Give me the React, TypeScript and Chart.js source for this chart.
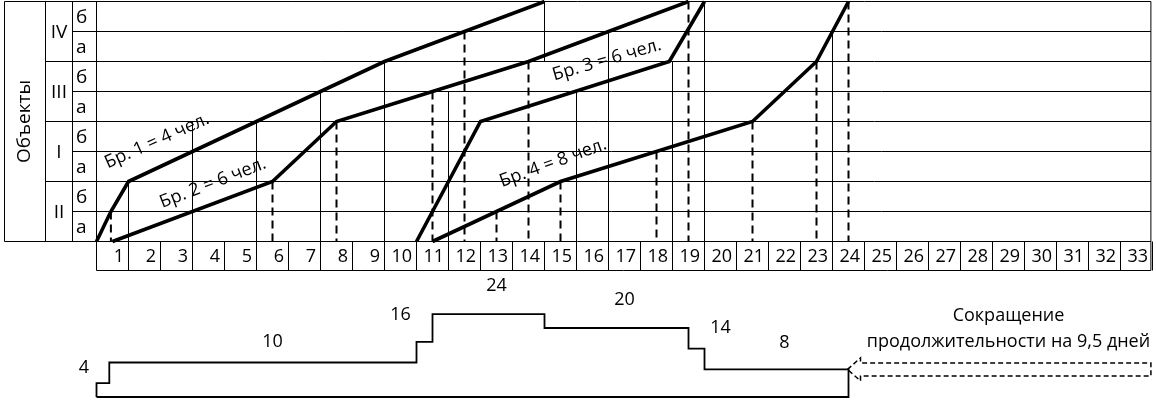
import { useEffect, useRef } from "react";
import { Chart, registerables } from "chart.js";

Chart.register(...registerables);

// Work fronts from bottom to top: each object has two sections (а, б)
const objectNames = ["II", "I", "III", "IV"];
const sectionNames = ["а", "б"];

// Day numbers along the bottom of the schedule
const dayNumbers = [
  1, 2, 3, 4, 5, 6, 7, 8, 9, 10, 11, 12, 13, 14, 15, 16, 17,
  18, 19, 20, 21, 22, 23, 24, 25, 26, 27, 28, 29, 30, 31, 32, 33,
];

// Brigade flow lines: day (x) against section level (0 = start of II-а, 8 = end of IV-б)
const brigade1Days = [0.5, 0.95, 1.5, 3.5, 5.5, 7.5, 9.5, 12, 14.5];
const brigade1Levels = [0, 1, 2, 3, 4, 5, 6, 7, 8];
const brigade2Days = [1, 6, 8, 11, 14, 16.5, 19];
const brigade2Levels = [0, 2, 4, 5, 6, 7, 8];
const brigade3Days = [10.5, 12.5, 18.4, 19.5];
const brigade3Levels = [0, 4, 6, 8];
const brigade4Days = [11, 15, 21, 23, 24];
const brigade4Levels = [0, 2, 4, 6, 8];
const brigadeNames = ["Бр. 1 = 4 чел.", "Бр. 2 = 6 чел.", "Бр. 3 = 6 чел.", "Бр. 4 = 8 чел."];

// Dashed drop lines: day and the level they fall from
const dropDays = [0.95, 6, 8, 11, 12, 13, 14, 15, 18, 19, 21, 23, 24];
const dropLevels = [1, 2, 4, 5, 7, 1, 6, 2, 3, 8, 4, 6, 8];

// Workforce histogram: step boundaries (days) and number of workers per step
const crewBounds = [0.5, 0.9, 10.5, 11, 14.5, 19, 19.5, 24];
const crewSizes = [4, 10, 16, 24, 20, 14, 8];

// Duration reduction arrow (days)
const reductionFrom = 24;
const reductionTo = 33.45;
const reductionText = ["Сокращение", "продолжительности на 9,5 дней"];

// Cell borders drawn inside the schedule: day boundary and level range
const innerBorders: [number, number, number][] = [
  [1.5, 0, 2],
  [3.5, 0, 4],
  [5.5, 0, 4],
  [7.5, 0, 5],
  [9.5, 0, 6],
  [11.5, 0, 5],
  [14.5, 6, 8],
  [15.5, 0, 5],
  [16.5, 0, 7],
  [18.5, 0, 6],
  [19.5, 0, 8],
  [23.5, 0, 7],
];

// ---- layout ----
const W = 1156;
const H = 400;
const DAY_PX = 32;
const ROW_PX = 30;
const TOP = 1.5;
const GRID_BOTTOM = TOP + 8 * ROW_PX;
const HIST_BASE = 397;
const PEOPLE_PX = 3.45;
const LEFT = 96.5;
const FONT = '"Open Sans", "Noto Sans", sans-serif';

// label anchors: [day, level, angle in degrees]
const brigadeLabelSpots: [number, number, number][] = [
  [2.39, 3.35, -24],
  [4.14, 1.95, -21],
  [16.45, 6.05, -16],
  [14.77, 2.62, -20],
];
// histogram labels: [day, pixels above the step]
const crewLabelSpots: [number, number][] = [
  [0.11, 15],
  [6.0, 21],
  [10.0, 27],
  [13.0, 28],
  [17.0, 28],
  [20.0, 21],
  [22.0, 27],
];

const pairs = (xs: number[], ys: number[]) => xs.map((x, i) => ({ x, y: ys[i] }));

function histogramPoints() {
  const pts: { x: number; y: number }[] = [{ x: crewBounds[0], y: 0 }];
  crewSizes.forEach((n, i) => {
    pts.push({ x: crewBounds[i], y: n }, { x: crewBounds[i + 1], y: n });
  });
  pts.push({ x: crewBounds[crewBounds.length - 1], y: 0 }, { x: crewBounds[0], y: 0 });
  return pts;
}

function drawText(
  ctx: CanvasRenderingContext2D,
  s: string,
  x: number,
  y: number,
  size = 18,
  align: CanvasTextAlign = "center",
  angle = 0
) {
  ctx.save();
  ctx.translate(x, y);
  if (angle) ctx.rotate(angle);
  ctx.font = `${size}px ${FONT}`;
  ctx.fillStyle = "#000";
  ctx.textAlign = align;
  ctx.textBaseline = "middle";
  ctx.fillText(s, 0, 0);
  ctx.restore();
}

const schedulePlugin = {
  id: "scheduleTable",
  beforeDatasetsDraw(chart: any) {
    const ctx: CanvasRenderingContext2D = chart.ctx;
    const xs = chart.scales.x;
    const ys = chart.scales.y;
    const px = (d: number) => xs.getPixelForValue(d);
    const py = (l: number) => ys.getPixelForValue(l);
    const right = px(33.45);
    const colA = 4.5;
    const colB = 45.5;
    const colC = 72.5;
    const gridLeft = px(0.5);
    const dayTop = py(0);
    const dayBottom = dayTop + 29;

    ctx.save();
    ctx.strokeStyle = "#000";
    ctx.lineWidth = 1;
    ctx.beginPath();
    // rows
    for (let r = 0; r <= 8; r++) {
      const y = py(r);
      const x0 = r === 0 || r === 8 ? colA : r % 2 === 0 ? colB : colC;
      ctx.moveTo(x0, y);
      ctx.lineTo(right, y);
    }
    // table columns
    [colA, colB, colC].forEach((x) => {
      ctx.moveTo(x, py(8));
      ctx.lineTo(x, py(0));
    });
    ctx.moveTo(gridLeft, py(8));
    ctx.lineTo(gridLeft, dayBottom);
    ctx.moveTo(right, py(8));
    ctx.lineTo(right, dayBottom);
    // inner cell borders
    innerBorders.forEach(([d, l0, l1]) => {
      ctx.moveTo(px(d), py(l0));
      ctx.lineTo(px(d), py(l1));
    });
    // day row
    dayNumbers.forEach((n) => {
      ctx.moveTo(px(n + 0.5), dayTop);
      ctx.lineTo(px(n + 0.5), dayBottom);
    });
    ctx.moveTo(gridLeft, dayBottom);
    ctx.lineTo(right, dayBottom);
    ctx.stroke();
    ctx.restore();

    // left headings
    ctx.save();
    ctx.translate(24.5, (py(8) + py(0)) / 2);
    ctx.rotate(-Math.PI / 2);
    ctx.font = `19px ${FONT}`;
    ctx.fillStyle = "#000";
    ctx.textAlign = "center";
    ctx.textBaseline = "middle";
    ctx.fillText("Объекты", 0, 0);
    ctx.restore();

    objectNames.forEach((name, i) => {
      drawText(ctx, name, 59, py(i * 2 + 1) + 1, 19);
      sectionNames.forEach((s, j) => {
        drawText(ctx, s, 76, py(i * 2 + j + 0.5) + 1, 19, "left");
      });
    });

    dayNumbers.forEach((n) => {
      drawText(ctx, String(n), px(n + 0.5) - 4.5, dayTop + 15.5, 18, "right");
    });
  },
  afterDatasetsDraw(chart: any) {
    const ctx: CanvasRenderingContext2D = chart.ctx;
    const xs = chart.scales.x;
    const ys = chart.scales.y;
    const y2 = chart.scales.y2;
    const px = (d: number) => xs.getPixelForValue(d);

    brigadeNames.forEach((name, i) => {
      const [d, l, a] = brigadeLabelSpots[i];
      drawText(ctx, name, px(d), ys.getPixelForValue(l), 18, "center", (a * Math.PI) / 180);
    });

    crewSizes.forEach((n, i) => {
      const [d, off] = crewLabelSpots[i];
      drawText(ctx, String(n), px(d), y2.getPixelForValue(n) - off, 18);
    });

    // hollow dashed arrow pointing back to the end of the work
    const tipX = px(reductionFrom) - 1;
    const tipY = y2.getPixelForValue(crewSizes[crewSizes.length - 1]);
    const backX = tipX + 13;
    const endX = px(reductionTo);
    const head = 11.5;
    const shaft = 6.5;
    ctx.save();
    ctx.strokeStyle = "#000";
    ctx.lineWidth = 1.5;
    ctx.setLineDash([5, 3]);
    ctx.beginPath();
    ctx.moveTo(tipX, tipY);
    ctx.lineTo(backX, tipY - head);
    ctx.lineTo(backX, tipY - shaft);
    ctx.lineTo(endX, tipY - shaft);
    ctx.lineTo(endX, tipY + shaft);
    ctx.lineTo(backX, tipY + shaft);
    ctx.lineTo(backX, tipY + head);
    ctx.closePath();
    ctx.stroke();
    ctx.restore();

    const textX = px(29);
    drawText(ctx, reductionText[0], textX, tipY - 54, 18);
    drawText(ctx, reductionText[1], textX, tipY - 27.5, 18);
  },
};

export default function App() {
  const ref = useRef<HTMLCanvasElement>(null);

  useEffect(() => {
    const canvas = ref.current;
    if (!canvas) return;

    const brigadeLine = (xs: number[], ys: number[]) => ({
      data: pairs(xs, ys),
      yAxisID: "y",
      borderColor: "#000",
      borderWidth: 3.6,
      pointRadius: 0,
      tension: 0,
      borderJoinStyle: "miter" as const,
      clip: false as const,
    });

    const drops = dropDays.map((d, i) => ({
      data: [
        { x: d, y: dropLevels[i] },
        { x: d, y: 0 },
      ],
      yAxisID: "y",
      borderColor: "#000",
      borderWidth: 2,
      borderDash: [8, 5],
      pointRadius: 0,
      clip: false as const,
    }));

    const chart = new Chart(canvas, {
      type: "line",
      data: {
        datasets: [
          brigadeLine(brigade1Days, brigade1Levels),
          brigadeLine(brigade2Days, brigade2Levels),
          brigadeLine(brigade3Days, brigade3Levels),
          brigadeLine(brigade4Days, brigade4Levels),
          ...drops,
          {
            data: histogramPoints(),
            yAxisID: "y2",
            borderColor: "#000",
            borderWidth: 1.8,
            pointRadius: 0,
            tension: 0,
            borderJoinStyle: "miter" as const,
            clip: false as const,
          },
        ] as any,
      },
      options: {
        responsive: false,
        maintainAspectRatio: false,
        devicePixelRatio: 1,
        animation: false,
        events: [],
        layout: {
          padding: {
            left: LEFT,
            right: W - LEFT - 33 * DAY_PX,
            top: TOP,
            bottom: H - HIST_BASE,
          },
        },
        plugins: {
          legend: { display: false },
          tooltip: { enabled: false },
        },
        scales: {
          x: { type: "linear", min: 0.5, max: 33.5, display: false },
          y: {
            type: "linear",
            min: -(HIST_BASE - GRID_BOTTOM) / ROW_PX,
            max: 8,
            display: false,
          },
          y2: {
            type: "linear",
            min: 0,
            max: (HIST_BASE - TOP) / PEOPLE_PX,
            display: false,
          },
        },
      },
      plugins: [schedulePlugin],
    });

    return () => chart.destroy();
  }, []);

  return (
    <div
      style={{
        position: "absolute",
        left: 0,
        top: 0,
        width: W,
        height: H,
        background: "#fff",
      }}
    >
      <canvas ref={ref} width={W} height={H} style={{ display: "block", width: W, height: H }} />
    </div>
  );
}
